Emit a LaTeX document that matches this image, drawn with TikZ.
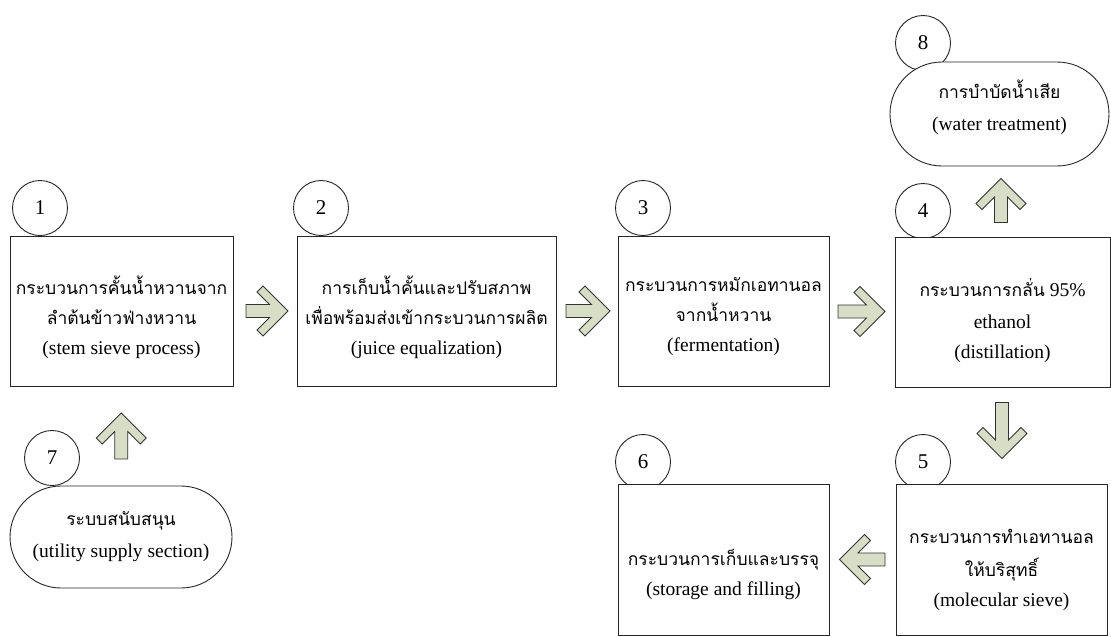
\documentclass[tikz,border=0pt]{standalone}
\usepackage{fontspec}
\setmainfont{Liberation Serif}
\newfontfamily\thaifont[Script=Thai]{Loma}
\usetikzlibrary{shapes.misc,calc}
\definecolor{arrowfill}{RGB}{216,221,198}
\newcommand{\enfont}{\fontsize{19.5pt}{30pt}\selectfont}
\newcommand{\thx}{\thaifont\fontsize{17.5pt}{30pt}\selectfont}
\tikzset{
  stepbox/.style={draw=black!85, line width=0.9pt, fill=white, inner sep=0pt},
  term/.style={rounded rectangle, draw=black!85, line width=0.9pt, fill=white, inner sep=0pt},
  txt/.style={align=center, inner sep=0pt, font=\enfont},
  num/.style={circle, draw=black!85, line width=0.9pt, fill=white, minimum size=55pt, inner sep=0pt, font=\fontsize{21pt}{21pt}\selectfont},
  fat/.style={fill=arrowfill, draw=black!80, line width=0.8pt, line join=miter},
  pics/fatarrow/.style={code={\path[fat] (23,0) -- (-2,25) -- (-8,19) -- (4.5,6.5) -- (-#1,6.5) -- (-#1,-6.5) -- (4.5,-6.5) -- (-8,-19) -- (-2,-25) -- cycle;}}
}
\begin{document}
\begin{tikzpicture}[x=1pt,y=-1pt]
\useasboundingbox (0,0) rectangle (1111,637);
% number circles
\node[num] (c1) at (40,208) {1};
\node[num] (c2) at (321,208) {2};
\node[num] (c3) at (643,208) {3};
\node[num] (c4) at (923,211) {4};
\node[num] (c5) at (923,462) {5};
\node[num] (c6) at (643,462) {6};
\node[num] (c7) at (52,458) {7};
\node[num] (c8) at (923,43) {8};
% process boxes
\node[stepbox, minimum width=223pt, minimum height=150pt] (b1) at (121.5,311) {};
\node[stepbox, minimum width=259pt, minimum height=150pt] (b2) at (426.5,311) {};
\node[stepbox, minimum width=211pt, minimum height=150pt] (b3) at (723.5,311) {};
\node[stepbox, minimum width=215pt, minimum height=150pt] (b4) at (1002.5,312) {};
\node[stepbox, minimum width=211pt, minimum height=151pt] (b5) at (1001.5,559.5) {};
\node[stepbox, minimum width=211pt, minimum height=151pt] (b6) at (723.5,559.5) {};
% terminators
\node[term, minimum width=219pt, minimum height=104pt] (s8) at (999.5,114) {};
\node[term, minimum width=222pt, minimum height=102pt] (s7) at (121,537) {};
% texts
\node[txt] (t1) at ($(b1.center)+(0,6)$)
  {{\thx กระบวนการคั้นน้ำหวานจาก}\\{\thx ลำต้นข้าวฟ่างหวาน}\\(stem sieve process)};
\node[txt] (t2) at ($(b2.center)+(0,6)$)
  {{\thx การเก็บน้ำคั้นและปรับสภาพ}\\{\thx เพื่อพร้อมส่งเข้ากระบวนการผลิต}\\(juice equalization)};
\node[txt] (t3) at ($(b3.center)+(0,6)$)
  {{\thx กระบวนการหมักเอทานอล}\\{\thx จากน้ำหวาน}\\(fermentation)};
\node[txt] (t4) at ($(b4.center)+(0,9)$)
  {{\thx กระบวนการกลั่น} 95\%\\[2pt]ethanol\\(distillation)};
\node[txt] (t5) at ($(b5.center)+(0,10)$)
  {{\thx กระบวนการทำเอทานอล}\\[3pt]{\thx ให้บริสุทธิ์}\\(molecular sieve)};
\node[txt] (t6) at ($(b6.center)+(0,15)$)
  {{\thx กระบวนการเก็บและบรรจุ}\\(storage and filling)};
\node[txt] (t8) at ($(s8.center)+(0,-7)$)
  {{\thx การบำบัดน้ำเสีย}\\[2pt](water treatment)};
\node[txt] (t7) at ($(s7.center)+(0,0)$)
  {{\thx ระบบสนับสนุน}\\[2pt](utility supply section)};
% block arrows
\pic at ($(b1.east)!0.5!(b2.west)$) {fatarrow=19};
\pic at ($(b2.east)!0.5!(b3.west)$) {fatarrow=21};
\pic at ($(b3.east)!0.5!(b4.west)$) {fatarrow=24};
\pic[rotate=90] at ($(b4.north)!0.5!(s8.south)$) {fatarrow=21};
\pic[rotate=-90] at ($(b4.south)!0.5!(b5.north)$) {fatarrow=33};
\pic[rotate=180] at ($(b5.west)!0.5!(b6.east)$) {fatarrow=22.5};
\pic[rotate=90] at ($(s7.north)!0.5!(b1.south)$) {fatarrow=23};
\end{tikzpicture}
\end{document}
